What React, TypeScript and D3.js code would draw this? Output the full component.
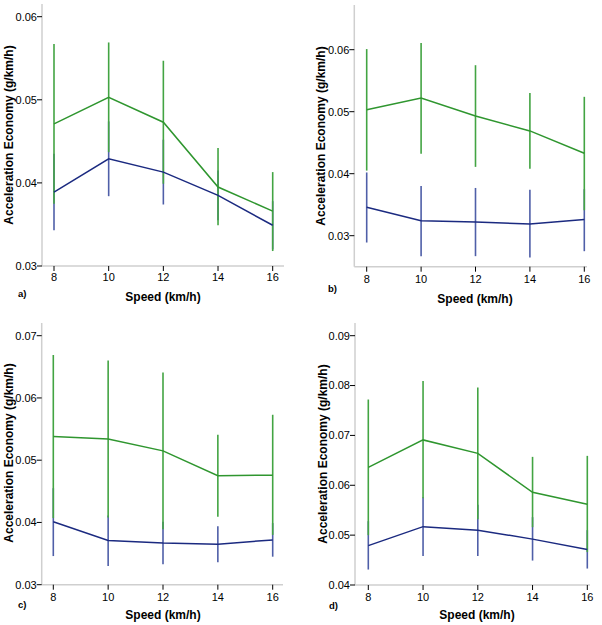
import React from "react";
import * as d3 from "d3";

const speeds = [8, 10, 12, 14, 16];

const aGreenMean = [0.0471, 0.0503, 0.0473, 0.0395, 0.0366];
const aGreenLo = [0.0375, 0.0437, 0.0399, 0.0349, 0.0318];
const aGreenHi = [0.0567, 0.0569, 0.0547, 0.0442, 0.0413];
const aBlueMean = [0.0389, 0.0429, 0.0413, 0.0385, 0.0349];
const aBlueLo = [0.0343, 0.0384, 0.0374, 0.0355, 0.032];
const aBlueHi = [0.0435, 0.0474, 0.0452, 0.0415, 0.0378];

const bGreenMean = [0.0503, 0.0522, 0.0493, 0.0469, 0.0433];
const bGreenLo = [0.0405, 0.0432, 0.0411, 0.0408, 0.0341];
const bGreenHi = [0.0601, 0.0611, 0.0575, 0.053, 0.0524];
const bBlueMean = [0.0346, 0.0324, 0.0322, 0.0319, 0.0326];
const bBlueLo = [0.0289, 0.0267, 0.0267, 0.0265, 0.0275];
const bBlueHi = [0.0402, 0.038, 0.0377, 0.0374, 0.0375];

const cGreenMean = [0.0538, 0.0534, 0.0515, 0.0475, 0.0476];
const cGreenLo = [0.0407, 0.0408, 0.0389, 0.0409, 0.038];
const cGreenHi = [0.0669, 0.066, 0.0641, 0.0541, 0.0573];
const cBlueMean = [0.0401, 0.0371, 0.0367, 0.0365, 0.0372];
const cBlueLo = [0.0346, 0.033, 0.0333, 0.0336, 0.0345];
const cBlueHi = [0.0455, 0.0411, 0.0401, 0.0394, 0.0399];

const dGreenMean = [0.0636, 0.0691, 0.0664, 0.0586, 0.0562];
const dGreenLo = [0.05, 0.0574, 0.0532, 0.0516, 0.0466];
const dGreenHi = [0.0772, 0.0809, 0.0796, 0.0657, 0.0659];
const dBlueMean = [0.0479, 0.0517, 0.051, 0.0492, 0.0471];
const dBlueLo = [0.0431, 0.0458, 0.0458, 0.0449, 0.0433];
const dBlueHi = [0.0528, 0.0576, 0.0561, 0.0536, 0.051];

const aTicks = [0.03, 0.04, 0.05, 0.06];
const bTicks = [0.03, 0.04, 0.05, 0.06];
const cTicks = [0.03, 0.04, 0.05, 0.06, 0.07];
const dTicks = [0.04, 0.05, 0.06, 0.07, 0.08, 0.09];

const yTitle = "Acceleration Economy (g/km/h)";
const xTitle = "Speed (km/h)";

const GREEN_LINE = "#2f962f";
const GREEN_BAR = "#43a443";
const BLUE_LINE = "#1b2a80";
const BLUE_BAR = "#4f5fa8";
const AXIS = "#cfcfcf";
const FONT = "Liberation Sans, Arial, sans-serif";

type Layout = {
  label: string;
  axisX: number; // y axis x
  axisTop: number;
  axisBottom: number;
  axisRight: number;
  yLow: number; yLowPx: number;
  yHigh: number; yHighPx: number;
  x8: number; x16: number;
  tickLabelY: number;
  xTitleX: number; xTitleY: number;
  panelLabelX: number; panelLabelY: number;
  yTitleX: number; yTitleY: number;
};

type Series = {
  gm: number[]; gl: number[]; gh: number[];
  bm: number[]; bl: number[]; bh: number[];
  ticks: number[];
};

const panels: { layout: Layout; s: Series }[] = [
  {
    layout: {
      label: "a)", axisX: 42, axisTop: 4, axisBottom: 266, axisRight: 284,
      yLow: 0.03, yLowPx: 266, yHigh: 0.06, yHighPx: 16.7,
      x8: 54, x16: 272.7, tickLabelY: 277,
      xTitleX: 163, xTitleY: 297, panelLabelX: 18, panelLabelY: 294,
      yTitleX: 9, yTitleY: 135,
    },
    s: { gm: aGreenMean, gl: aGreenLo, gh: aGreenHi, bm: aBlueMean, bl: aBlueLo, bh: aBlueHi, ticks: aTicks },
  },
  {
    layout: {
      label: "b)", axisX: 354.3, axisTop: 5, axisBottom: 266.7, axisRight: 587,
      yLow: 0.03, yLowPx: 235.7, yHigh: 0.06, yHighPx: 49.7,
      x8: 366.7, x16: 584.3, tickLabelY: 279,
      xTitleX: 475, xTitleY: 299, panelLabelX: 328, panelLabelY: 289,
      yTitleX: 321, yTitleY: 136,
    },
    s: { gm: bGreenMean, gl: bGreenLo, gh: bGreenHi, bm: bBlueMean, bl: bBlueLo, bh: bBlueHi, ticks: bTicks },
  },
  {
    layout: {
      label: "c)", axisX: 41.7, axisTop: 323, axisBottom: 584.7, axisRight: 283,
      yLow: 0.03, yLowPx: 584.7, yHigh: 0.07, yHighPx: 335.7,
      x8: 53.3, x16: 272.7, tickLabelY: 597,
      xTitleX: 163, xTitleY: 615, panelLabelX: 18, panelLabelY: 605,
      yTitleX: 9, yTitleY: 453,
    },
    s: { gm: cGreenMean, gl: cGreenLo, gh: cGreenHi, bm: cBlueMean, bl: cBlueLo, bh: cBlueHi, ticks: cTicks },
  },
  {
    layout: {
      label: "d)", axisX: 355, axisTop: 323, axisBottom: 585, axisRight: 590,
      yLow: 0.04, yLowPx: 585, yHigh: 0.09, yHighPx: 335.7,
      x8: 368.3, x16: 587.3, tickLabelY: 597,
      xTitleX: 477, xTitleY: 615, panelLabelX: 329, panelLabelY: 606,
      yTitleX: 323, yTitleY: 454,
    },
    s: { gm: dGreenMean, gl: dGreenLo, gh: dGreenHi, bm: dBlueMean, bl: dBlueLo, bh: dBlueHi, ticks: dTicks },
  },
];

function Panel({ layout: L, s }: { layout: Layout; s: Series }) {
  const x = d3.scaleLinear().domain([8, 16]).range([L.x8, L.x16]);
  const y = d3.scaleLinear().domain([L.yLow, L.yHigh]).range([L.yLowPx, L.yHighPx]);
  const fmt = d3.format(".2f");
  const line = d3
    .line<number>()
    .x((_, i) => x(speeds[i]))
    .y((v) => y(v));

  const bars = (lo: number[], hi: number[], color: string, key: string) =>
    speeds.map((sp, i) => (
      <line
        key={key + i}
        x1={x(sp)}
        x2={x(sp)}
        y1={y(lo[i])}
        y2={y(hi[i])}
        stroke={color}
        strokeWidth={1.6}
      />
    ));

  return (
    <g>
      {/* axes */}
      <line x1={L.axisX} x2={L.axisX} y1={L.axisTop} y2={L.axisBottom} stroke={AXIS} strokeWidth={1.5} />
      <line x1={L.axisX} x2={L.axisRight} y1={L.axisBottom} y2={L.axisBottom} stroke={AXIS} strokeWidth={1.5} />
      {s.ticks.map((t) => (
        <g key={"yt" + t}>
          <line x1={L.axisX - 5} x2={L.axisX} y1={y(t)} y2={y(t)} stroke="#000" strokeWidth={1} />
          <text
            x={L.axisX - 5}
            y={y(t)}
            dy="0.35em"
            textAnchor="end"
            fontFamily={FONT}
            fontSize={11}
            fill="#000"
          >
            {fmt(t)}
          </text>
        </g>
      ))}
      {speeds.map((sp) => (
        <g key={"xt" + sp}>
          <line x1={x(sp)} x2={x(sp)} y1={L.axisBottom} y2={L.axisBottom + 5} stroke="#000" strokeWidth={1} />
          <text
            x={x(sp)}
            y={L.tickLabelY}
            dy="0.35em"
            textAnchor="middle"
            fontFamily={FONT}
            fontSize={11}
            fill="#000"
          >
            {sp}
          </text>
        </g>
      ))}
      {/* data */}
      {bars(s.bl, s.bh, BLUE_BAR, "bb")}
      {bars(s.gl, s.gh, GREEN_BAR, "gb")}
      <path d={line(s.bm) || ""} fill="none" stroke={BLUE_LINE} strokeWidth={1.5} />
      <path d={line(s.gm) || ""} fill="none" stroke={GREEN_LINE} strokeWidth={1.5} />
      {/* titles */}
      <text
        x={L.xTitleX}
        y={L.xTitleY}
        dy="0.35em"
        textAnchor="middle"
        fontFamily={FONT}
        fontWeight="bold"
        fontSize={12}
        fill="#000"
      >
        {xTitle}
      </text>
      <text
        x={L.panelLabelX}
        y={L.panelLabelY}
        dy="0.35em"
        fontFamily={FONT}
        fontWeight="bold"
        fontSize={9.5}
        fill="#000"
      >
        {L.label}
      </text>
      <text
        transform={`translate(${L.yTitleX},${L.yTitleY}) rotate(-90)`}
        dy="0.35em"
        textAnchor="middle"
        fontFamily={FONT}
        fontWeight="bold"
        fontSize={12}
        fill="#000"
      >
        {yTitle}
      </text>
    </g>
  );
}

export default function App() {
  return (
    <svg
      width={602}
      height={625}
      style={{ position: "absolute", left: 0, top: 0, background: "#fff" }}
    >
      <rect x={0} y={0} width={602} height={625} fill="#fff" />
      {panels.map((p, i) => (
        <Panel key={i} layout={p.layout} s={p.s} />
      ))}
    </svg>
  );
}
